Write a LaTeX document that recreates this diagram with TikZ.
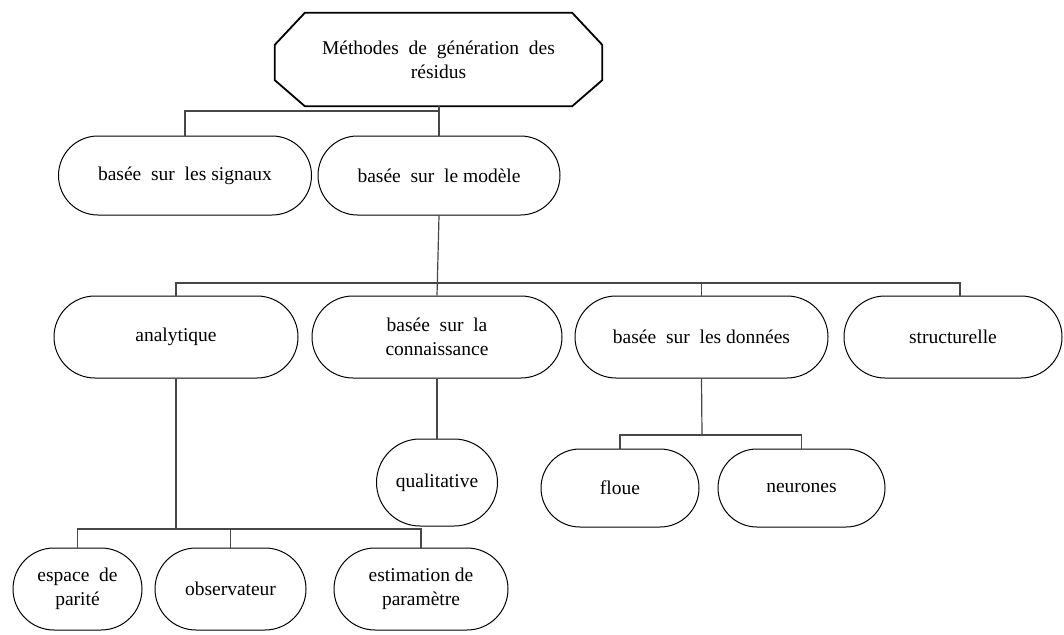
\documentclass[tikz,border=0pt]{standalone}
\usepackage{fontspec}
\setmainfont{Liberation Serif}
\usetikzlibrary{shapes.misc}

\tikzset{
  pill/.style={rounded rectangle, draw=black, line width=1pt, align=center,
               inner sep=0pt, font=\fontsize{19.5}{24}\selectfont},
  octo/.style={draw=black, line width=1.8pt, line join=miter},
  link/.style={draw=black!72, line width=1.2pt},
}

\begin{document}
\begin{tikzpicture}[x=1pt,y=-1pt]
\useasboundingbox (0,0) rectangle (1064,634);

% root: octagonal title box
\node[align=center, inner sep=0pt, minimum width=327pt, minimum height=93pt,
      font=\fontsize{19.5}{24}\selectfont] (root) at (438.5,59.5)
      {Méthodes\ \ de\ \ génération\ \ des\\résidus};
\draw[octo] ([xshift=30]root.north west) -- ([xshift=-30]root.north east)
  -- ([yshift=-32]root.north east) -- ([yshift=26]root.south east)
  -- ([xshift=-30]root.south east) -- ([xshift=30]root.south west)
  -- ([yshift=26]root.south west) -- ([yshift=-32]root.north west) -- cycle;

% first level
\node[pill, minimum width=253pt, minimum height=79pt] (sig) at (185,175.5) {basée\ \ sur\ \ les signaux};
\node[pill, minimum width=242pt, minimum height=79pt] (mod) at (439,175.5) {basée\ \ sur\ \ le modèle};

% second level
\node[pill, minimum width=244pt, minimum height=82pt] (ana) at (176,337) {analytique};
\node[pill, minimum width=250pt, minimum height=82pt] (con) at (437,337) {basée\ \ sur\ \ la\\connaissance};
\node[pill, minimum width=253pt, minimum height=82pt] (don) at (701.5,337) {basée\ \ sur\ \ les données};
\node[pill, minimum width=218pt, minimum height=82pt] (str) at (953,337) {structurelle};

% third level
\node[pill, minimum width=121pt, minimum height=87pt] (qua) at (437,482.5) {qualitative};
\node[pill, minimum width=158pt, minimum height=78pt] (flo) at (620,488) {floue};
\node[pill, minimum width=167pt, minimum height=78pt] (neu) at (801.5,488) {neurones};

\node[pill, minimum width=129pt, minimum height=82pt] (esp) at (77.5,589) {espace\ \ de\\parité};
\node[pill, minimum width=151pt, minimum height=82pt] (obs) at (230.5,589) {observateur};
\node[pill, minimum width=174pt, minimum height=82pt] (est) at (421,589) {estimation de\\paramètre};

% junction points
\coordinate (j1) at (439,111);
\coordinate (j2) at (437,283);
\coordinate (j3) at (176,529);
\coordinate (j4) at (702,435);

% connectors
\draw[link] (root.south -| mod.north) -- (mod.north);
\draw[link] (sig.north) |- (j1);

\draw[link] (mod.south) -- (con.north);
\draw[link] (ana.north) |- (j2) -| ([xshift=7]str.north);
\draw[link] (don.north) -- (don.north |- j2);

\draw[link] (con.south) -- (qua.north);

\draw[link] (don.south) -- (j4);
\draw[link] (flo.north) |- (j4) -| (neu.north);

\draw[link] (ana.south) -- (j3);
\draw[link] (esp.north) |- (j3) -| (est.north);
\draw[link] (obs.north) -- (obs.north |- j3);
\end{tikzpicture}
\end{document}
